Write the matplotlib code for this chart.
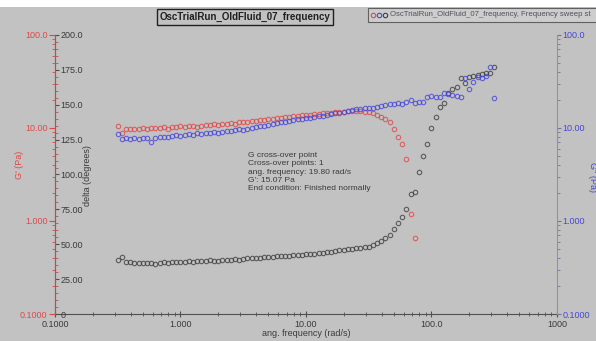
import numpy as np
import matplotlib
matplotlib.use('Agg')
import matplotlib.pyplot as plt
from matplotlib.ticker import FixedLocator, FixedFormatter, LogLocator, MultipleLocator, NullFormatter
from matplotlib.lines import Line2D
from matplotlib.patches import Rectangle

plt.rcParams['font.family'] = ['Liberation Sans', 'DejaVu Sans']

# Frequency sweep data
freq = [0.3162, 0.3415, 0.3687, 0.3981, 0.4299, 0.4642, 0.5012, 0.5412, 0.5843, 0.6310,
        0.6813, 0.7356, 0.7943, 0.8577, 0.9261,
        1.000, 1.080, 1.166, 1.259, 1.359, 1.468, 1.585, 1.711, 1.848, 1.995,
        2.154, 2.326, 2.512, 2.712, 2.929, 3.162, 3.415, 3.687, 3.981, 4.299,
        4.642, 5.012, 5.412, 5.843, 6.310, 6.813, 7.356, 7.943, 8.577, 9.261,
        10.00, 10.80, 11.66, 12.59, 13.59, 14.68, 15.85, 17.11, 18.48, 19.95,
        21.54, 23.26, 25.12, 27.12, 29.29, 31.62, 34.15, 36.87, 39.81, 42.99,
        46.42, 50.12, 54.12, 58.43, 63.10, 68.13, 73.56, 79.43, 85.77, 92.61,
        100.0, 108.0, 116.6, 125.9, 135.9, 146.8, 158.5, 171.1, 184.8, 199.5,
        215.4, 232.6, 251.2, 271.2, 292.9, 316.2]

nan = float('nan')
g_storage = [10.5, 8.84, 9.76, 9.76, 9.76, 9.76, 10.0, 9.76, 10.0, 10.0,
             10.0, 10.26, 9.76, 10.26, 10.26, 10.5, 10.26, 10.5, 10.5, 10.26,
             10.5, 10.77, 10.77, 11.04, 10.77, 11.04, 11.04, 11.32, 11.04, 11.6,
             11.6, 11.6, 11.9, 11.9, 12.2, 12.2, 12.5, 12.5, 12.8, 12.8,
             13.1, 13.1, 13.5, 13.5, 13.8, 13.8, 13.8, 14.2, 14.2, 14.5,
             14.5, 14.5, 14.9, 14.9, 14.9, 15.2, 15.2, 15.2, 15.2, 14.9,
             14.9, 14.5, 13.8, 13.1, 12.5, 11.6, 9.76, 8.0, 6.73, 4.64,
             1.19, 0.656] + [nan] * 19

g_loss = [8.62, 7.62, 7.80, 7.62, 7.80, 7.62, 7.80, 7.80, 7.07, 7.80,
          8.0, 8.0, 8.0, 8.20, 8.41, 8.20, 8.41, 8.62, 8.41, 8.84,
          8.62, 8.84, 8.84, 9.06, 8.84, 9.06, 9.29, 9.29, 9.52, 9.76,
          9.52, 9.76, 10.0, 10.26, 10.5, 10.5, 10.77, 11.04, 11.32, 11.6,
          11.6, 11.9, 12.2, 12.5, 12.5, 12.8, 12.8, 13.1, 13.5, 13.5,
          13.8, 14.2, 14.5, 14.5, 14.9, 15.2, 15.6, 16.0, 16.0, 16.4,
          16.4, 16.4, 16.8, 17.2, 17.7, 18.1, 18.1, 18.6, 18.1, 19.0,
          20.0, 18.6, 19.0, 19.0, 21.5, 22.1, 21.5, 21.5, 23.8, 23.2,
          22.6, 22.1, 21.5, 34.5, 26.3, 31.2, 35.3, 34.5, 36.2, 45.3, 21.0]

delta = [38.7, 40.9, 37.3, 37.3, 36.6, 36.6, 36.6, 36.6, 36.6, 35.8,
         36.6, 37.3, 36.6, 37.3, 37.3, 37.3, 37.3, 38.0, 37.3, 38.0,
         38.0, 38.0, 38.7, 38.0, 38.0, 38.7, 38.7, 38.7, 39.4, 38.7,
         39.4, 40.1, 40.1, 40.1, 40.1, 40.9, 40.9, 40.9, 41.6, 41.6,
         41.6, 41.6, 42.3, 42.3, 42.3, 43.0, 43.0, 43.0, 43.7, 43.7,
         44.4, 44.4, 45.2, 45.9, 45.9, 46.6, 46.6, 47.3, 47.3, 48.0,
         48.0, 49.5, 50.9, 52.3, 54.5, 56.6, 60.9, 65.2, 69.5, 75.3,
         86.0, 87.5, 101.8, 113.3, 121.9, 133.3, 141.2, 148.4, 151.2, 158.4,
         161.3, 162.7, 169.2, 165.6, 169.9, 170.6, 171.3, 172.0, 172.8, 172.8, 177.0]

g_ticks = [0.1, 1, 10, 100]
g_labels = ['0.1000', '1.000', '10.00', '100.0']
d_ticks = [0, 25, 50, 75, 100, 125, 150, 175, 200]
d_labels = ['0', '25.00', '50.00', '75.00', '100.0', '125.0', '150.0', '175.0', '200.0']
x_ticks = [0.1, 1, 10, 100, 1000]
x_labels = ['0.1000', '1.000', '10.00', '100.0', '1000']

info_text = ("G cross-over point\nCross-over points: 1\nang. frequency: 19.80 rad/s\n"
             "G': 15.07 Pa\nEnd condition: Finished normally")
legend_text = 'OscTrialRun_OldFluid_07_frequency, Frequency sweep st'

BG = '#c2c2c2'
RED = '#e04848'
BLUE = '#4646dc'
DARK = '#3a3a3a'
W, H = 596, 341

fig = plt.figure(figsize=(W / 100, H / 100), dpi=100, facecolor=BG)
ax = fig.add_axes([55 / W, 27 / H, 502 / W, 279 / H])
ax.set_facecolor(BG)

# G' axis (left, red)
ax.set_xscale('log')
ax.set_yscale('log')
ax.set_xlim(0.1, 1000)
ax.set_ylim(0.1, 100)
for s in ['top', 'right']:
    ax.spines[s].set_visible(False)
ax.spines['left'].set_color('#b05050')
ax.spines['bottom'].set_color('#505050')
ax.yaxis.set_major_locator(FixedLocator(g_ticks))
ax.yaxis.set_major_formatter(FixedFormatter(g_labels))
ax.yaxis.set_minor_locator(LogLocator(base=10, subs=np.arange(2, 10)))
ax.yaxis.set_minor_formatter(NullFormatter())
ax.tick_params(axis='y', which='major', colors=RED, labelsize=6.5, length=4, pad=1.5)
ax.tick_params(axis='y', which='minor', colors=RED, length=2)
ax.xaxis.set_major_locator(FixedLocator(x_ticks))
ax.xaxis.set_major_formatter(FixedFormatter(x_labels))
ax.xaxis.set_minor_locator(LogLocator(base=10, subs=np.arange(2, 10)))
ax.xaxis.set_minor_formatter(NullFormatter())
ax.tick_params(axis='x', which='major', direction='inout', length=5, colors='#505050',
               labelcolor=DARK, labelsize=6.5, pad=2)
ax.tick_params(axis='x', which='minor', direction='inout', length=3, colors='#505050')

# delta axis (labels inside, on the left spine)
ax_d = ax.twinx()
ax_d.set_ylim(0, 200)
ax_d.spines['right'].set_position(('axes', 0))
ax_d.spines['right'].set_color('#b05050')
for s in ['top', 'left', 'bottom']:
    ax_d.spines[s].set_visible(False)
ax_d.yaxis.set_major_locator(FixedLocator(d_ticks))
ax_d.yaxis.set_major_formatter(FixedFormatter(d_labels))
ax_d.yaxis.set_minor_locator(MultipleLocator(5))
ax_d.tick_params(axis='y', which='major', colors='#505050', labelcolor=DARK,
                 labelsize=6.5, length=3, pad=1)
ax_d.tick_params(axis='y', which='minor', colors='#a06060', length=2)

# G'' axis (right, blue)
ax_b = ax.twinx()
ax_b.set_yscale('log')
ax_b.set_ylim(0.1, 100)
for s in ['top', 'left', 'bottom']:
    ax_b.spines[s].set_visible(False)
ax_b.spines['right'].set_color('#c08080')
ax_b.yaxis.set_major_locator(FixedLocator(g_ticks))
ax_b.yaxis.set_major_formatter(FixedFormatter(g_labels))
ax_b.yaxis.set_minor_locator(LogLocator(base=10, subs=np.arange(2, 10)))
ax_b.yaxis.set_minor_formatter(NullFormatter())
ax_b.tick_params(axis='y', which='major', colors='#7070a0', labelcolor=BLUE,
                 labelsize=6.5, length=3, pad=1)
ax_b.tick_params(axis='y', which='minor', colors='#7070a0', length=2)

mk = dict(linestyle='none', marker='o', mfc='none', ms=3.2, mew=0.8, alpha=0.8)
ax.plot(freq, g_storage, mec=RED, **mk)
ax_b.plot(freq, g_loss, mec=BLUE, **mk)
ax_d.plot(freq, delta, mec='#404040', **mk)

# axis titles
fig.text(20 / W, 1 - 165 / H, "G' (Pa)", rotation=90, color=RED, fontsize=6.5,
         ha='center', va='center')
fig.text(88 / W, 1 - 176 / H, 'delta (degrees)', rotation=90, color=DARK, fontsize=6.5,
         ha='center', va='center')
fig.text(592 / W, 1 - 177 / H, "G'' (Pa)", rotation=270, color=BLUE, fontsize=6.5,
         ha='center', va='center')
fig.text(306 / W, 1 - 334 / H, 'ang. frequency (rad/s)', color=DARK, fontsize=6.5,
         ha='center', va='center')

fig.text(248 / W, 1 - 152 / H, info_text, color=DARK, fontsize=6, va='top', ha='left',
         linespacing=1.25)

# title and legend boxes
fig.text(245 / W, 1 - 17 / H, 'OscTrialRun_OldFluid_07_frequency', fontsize=7,
         fontweight='bold', color='#202020', ha='center', va='center',
         bbox=dict(boxstyle='square,pad=0.3', fc=BG, ec='#202020', lw=1))

fig.add_artist(Rectangle((368 / W, 1 - 22 / H), 240 / W, 14 / H, transform=fig.transFigure,
                         fc='#cdcdcd', ec='#606060', lw=0.8))
for i, c in enumerate([RED, BLUE, '#404040']):
    fig.add_artist(Line2D([(373 + 6 * i) / W], [1 - 15 / H], transform=fig.transFigure,
                          marker='o', mfc='none', mec=c, ms=3.2, mew=0.8, linestyle='none'))
fig.text(390 / W, 1 - 15 / H, legend_text, fontsize=5.6, color='#505060',
         ha='left', va='center')

# white strip at the top of the screenshot
fig.add_artist(Rectangle((0, 1 - 7 / H), 1, 7 / H, transform=fig.transFigure,
                         fc='white', ec='none'))

fig.savefig('out.png', dpi=100, facecolor=BG)
